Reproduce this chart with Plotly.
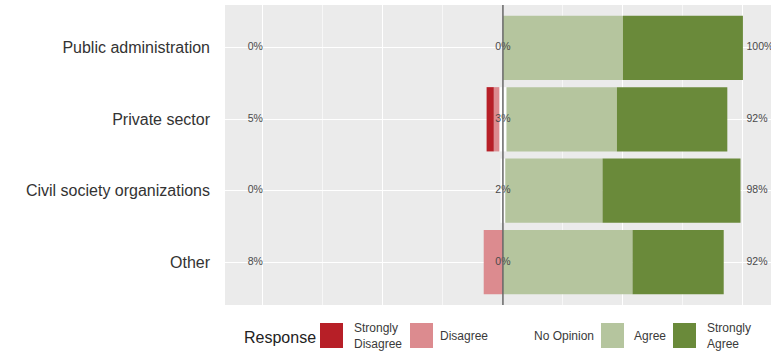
import plotly.graph_objects as go

# ---- data ----
categories = ["Public administration", "Private sector", "Civil society organizations", "Other"]
strongly_disagree = [0, 3, 0, 0]
disagree = [0, 2.3, 0, 8]
no_opinion = [0, 3, 2, 0]
agree = [50, 46, 40.5, 54]
strongly_agree = [50, 46, 57.5, 38]
left_labels = ["0%", "5%", "0%", "8%"]
center_labels = ["0%", "3%", "2%", "0%"]
right_labels = ["100%", "92%", "98%", "92%"]
responses = ["Strongly<br>Disagree", "Disagree", "No Opinion", "Agree", "Strongly<br>Agree"]
colors = ["#B71F27", "#DC8B8F", "#FFFFFF", "#B5C59E", "#6A8A3A"]

fig = go.Figure()
W = 0.9
half_neutral = [v / 2 for v in no_opinion]
neg = [(half_neutral, colors[2]), (disagree, colors[1]), (strongly_disagree, colors[0])]
for vals, c in neg:
    fig.add_trace(go.Bar(y=categories, x=[-v for v in vals], orientation="h", width=W,
                         marker=dict(color=c, line=dict(width=0)), showlegend=False,
                         hoverinfo="skip"))
pos = [(half_neutral, colors[2]), (agree, colors[3]), (strongly_agree, colors[4])]
for vals, c in pos:
    fig.add_trace(go.Bar(y=categories, x=vals, orientation="h", width=W,
                         marker=dict(color=c, line=dict(width=0)), showlegend=False,
                         hoverinfo="skip"))

lab_font = dict(family="Liberation Sans, Arial", size=10.5, color="#4A4A4A")
fig.add_trace(go.Scatter(y=categories, x=[-100] * 4, text=left_labels, mode="text",
                         textposition="middle left", textfont=lab_font, showlegend=False, hoverinfo="skip"))
fig.add_trace(go.Scatter(y=categories, x=[0] * 4, text=center_labels, mode="text",
                         textposition="middle center", textfont=lab_font, showlegend=False, hoverinfo="skip"))
fig.add_trace(go.Scatter(y=categories, x=[101.5] * 4, text=right_labels, mode="text",
                         textposition="middle right", textfont=lab_font, showlegend=False, hoverinfo="skip",
                         cliponaxis=False))

fig.add_shape(type="line", xref="x", yref="paper", x0=0, x1=0, y0=0, y1=1,
              line=dict(color="#666666", width=1.5), layer="above")

L, R, T, B = 225, 0, 5, 49
PW, PH = 771 - L - R, 354 - T - B

def px(x):
    return (x - L) / PW

def py(y):
    return (354 - B - y) / PH

fig.add_annotation(xref="paper", yref="paper", x=px(242), y=py(337), xanchor="left", yanchor="middle",
                   text="Response", showarrow=False,
                   font=dict(family="Liberation Sans, Arial", size=16, color="#222222"))
sw_x = [320, 410, 499, 601, 673]
tx_x = [352, 438, 532, 632, 705]
for i, (lab, c) in enumerate(zip(responses, colors)):
    fig.add_shape(type="rect", xref="paper", yref="paper", x0=px(sw_x[i]), x1=px(sw_x[i] + 23),
                  y0=py(348), y1=py(323), fillcolor=c, line=dict(width=0))
    fig.add_annotation(xref="paper", yref="paper", x=px(tx_x[i]), y=py(336), xanchor="left",
                       yanchor="middle", text=lab, showarrow=False, align="left",
                       font=dict(family="Liberation Sans, Arial", size=12, color="#3A3A3A"))

fig.update_layout(
    barmode="relative",
    width=771, height=354,
    margin=dict(l=L, r=R, t=T, b=B, autoexpand=False),
    paper_bgcolor="white",
    plot_bgcolor="#EBEBEB",
    showlegend=False,
    bargap=0.1,
)
fig.update_xaxes(range=[-115.8, 111.7], showticklabels=False, ticks="",
                 tickvals=[-100, -50, 0, 50, 100], showgrid=True, gridcolor="white", gridwidth=1.3,
                 zeroline=False, fixedrange=True,
                 minor=dict(tickvals=[-75, -25, 25, 75], showgrid=True, gridcolor="#F7F7F7", gridwidth=0.6))
fig.update_yaxes(categoryorder="array", categoryarray=categories[::-1], range=[-0.6, 3.6],
                 showgrid=True, gridcolor="white", gridwidth=1.3, ticks="", ticklabelstandoff=14,
                 tickfont=dict(family="Liberation Sans, Arial", size=16, color="#333333"))

fig.write_html("out.html", config={"displayModeBar": False},
               post_script="document.body.style.margin='0px';document.body.style.overflow='hidden';")
